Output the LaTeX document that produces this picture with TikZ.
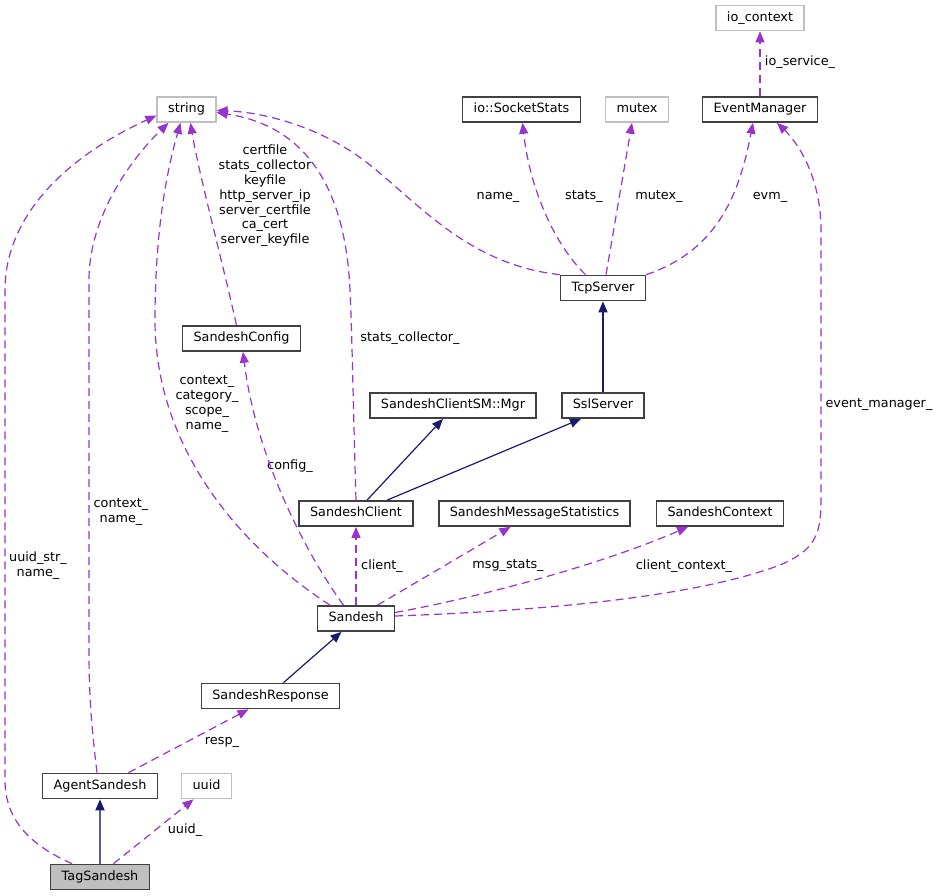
\documentclass[tikz,border=0pt]{standalone}
\usepackage{fontspec}
\setmainfont{DejaVu Sans}
\usepackage{xcolor}
\usetikzlibrary{arrows.meta}
\definecolor{memberpurple}{HTML}{9A32CD}
\definecolor{basenavy}{HTML}{191970}
\definecolor{tagblue}{HTML}{5A5AA0}
\definecolor{extgray}{HTML}{BFBFBF}
\definecolor{boxgray}{HTML}{404040}

\begin{document}
\begin{tikzpicture}[%
x=1pt, y=-1pt,
font=\fontsize{12.8}{14.8}\selectfont,
% common options for class boxes:
cls/.style = {draw=boxgray, line width=1.5pt, fill=white, align=center,
            inner xsep=11pt, inner ysep=6.4pt, text height=9.6pt, text depth=2.8pt},
% classes drawn with a grey frame:
ext/.style = {cls, draw=extgray},
% common options for the usage edges:
usage/.style = {draw=memberpurple, line width=1.2pt, dash pattern=on 8pt off 5pt,
            -{Triangle[length=11pt,width=9pt]}},
% common options for the inheritance edges:
inherit/.style = {draw=basenavy, line width=1.2pt, -{Triangle[length=11pt,width=9pt]}},
% edge labels:
lbl/.style = {align=center, inner sep=0}]
\useasboundingbox (0,0) rectangle (940,896);
\node[ext] (ioctx) at (760,18) {io\_context};
\node[ext] (str) at (186.5,109.5) {string};
\node[cls] (sock) at (521.5,109.5) {io::SocketStats};
\node[ext] (mtx) at (637,109.5) {mutex};
\node[cls] (evm) at (760,109.5) {EventManager};
\node[cls] (tcp) at (603,288) {TcpServer};
\node[cls] (cfg) at (241.5,338.5) {SandeshConfig};
\node[cls] (mgr) at (453,405.5) {SandeshClientSM::Mgr};
\node[cls] (ssl) at (603,405.5) {SslServer};
\node[cls] (client) at (356,513.5) {SandeshClient};
\node[cls] (msgstats) at (534.5,513.5) {SandeshMessageStatistics};
\node[cls] (ctx) at (720,513.5) {SandeshContext};
\node[cls] (sandesh) at (356,618.5) {Sandesh};
\node[cls] (resp) at (270.5,696) {SandeshResponse};
\node[cls] (agent) at (100,786) {AgentSandesh};
\node[ext] (uuid) at (206.5,786) {uuid};
\node[cls, fill=extgray] (tag) at (100,877) {TagSandesh};
% labels
\node[lbl] (L1) at (38,566) {uuid\_str\_\\name\_};
\node[lbl] (L2) at (121,512) {context\_\\name\_};
\node[lbl] (L3) at (207,404) {context\_\\category\_\\scope\_\\name\_};
\node[lbl] (L4) at (265,196) {certfile\\stats\_collector\\keyfile\\http\_server\_ip\\server\_certfile\\ca\_cert\\server\_keyfile};
\node[lbl] (L5) at (410,338) {stats\_collector\_};
\node[lbl] (L6) at (498,197) {name\_};
\node[lbl] (L7) at (584,197) {stats\_};
\node[lbl] (L8) at (659,197) {mutex\_};
\node[lbl] (L9) at (770,197) {evm\_};
\node[lbl] (L10) at (800,62) {io\_service\_};
\node[lbl] (L11) at (879,405) {event\_manager\_};
\node[lbl] (L12) at (290,466) {config\_};
\node[lbl] (L13) at (382,566) {client\_};
\node[lbl] (L14) at (508,566) {msg\_stats\_};
\node[lbl] (L15) at (684,566) {client\_context\_};
\node[lbl] (L16) at (222,742) {resp\_};
\node[lbl] (L17) at (185,830) {uuid\_};
% usage edges
\draw[usage] ([xshift=-28pt]tag.north) .. controls (30,845) and (5,820) .. (5,780)
    -- (5,290) .. controls (5,220) and (60,160) .. ([yshift=-6pt]str.west);
\draw[usage] ([xshift=-3pt]agent.north) .. controls (92,730) and (89,700) .. (89,650)
    -- (89,280) .. controls (89,210) and (140,150) .. ([xshift=-18pt]str.south);
\draw[usage] ([xshift=-26pt]sandesh.north) .. controls (230,540) and (155,440) .. (155,320)
    .. controls (155,220) and (170,160) .. ([xshift=-6pt]str.south);
\draw[usage] ([xshift=-5pt]cfg.north) .. controls (222,260) and (198,170) .. ([xshift=4pt]str.south);
\draw[usage] (client.north) .. controls (353,400) and (352,330) .. (350,290)
    .. controls (345,180) and (300,125) .. ([yshift=-3pt]str.east);
\draw[usage] (tcp.north west) .. controls (470,265) and (420,205) .. (370,165)
    .. controls (320,125) and (260,112) .. ([yshift=-1pt]str.east);
\draw[usage] ([xshift=-17.5pt]tcp.north) .. controls (555,245) and (530,190) .. ([xshift=1pt]sock.south);
\draw[usage] ([xshift=3pt]tcp.north) -- ([xshift=-5pt]mtx.south);
\draw[usage] (tcp.north east) .. controls (720,250) and (740,190) .. ([xshift=-7pt]evm.south);
\draw[usage] (evm.north) -- (ioctx.south);
\draw[usage] ([yshift=2.5pt]sandesh.east) .. controls (560,610) and (700,595) .. (780,565)
    .. controls (815,550) and (821,535) .. (821,500) -- (821,230)
    .. controls (821,180) and (800,145) .. ([xshift=17pt]evm.south);
\draw[usage] (sandesh.north) -- (client.south);
\draw[usage] ([xshift=21.5pt]sandesh.north) -- ([xshift=-24pt]msgstats.south);
\draw[usage] ([yshift=6pt]sandesh.east) .. controls (480,597) and (600,565) .. ([xshift=-32pt]ctx.south);
\draw[usage] ([xshift=-12.5pt]sandesh.north) .. controls (300,545) and (255,450) .. ([xshift=1.5pt]cfg.south);
\draw[usage] ([xshift=28.5pt]agent.north) -- ([xshift=-22pt]resp.south);
\draw[usage] ([xshift=13.5pt]tag.north) -- ([xshift=-13pt]uuid.south);
% inheritance edges
\draw[inherit] ([xshift=13pt]resp.north) -- ([xshift=-14.5pt]sandesh.south);
\draw[inherit, draw=tagblue, line width=1.8pt, -{Triangle[length=11pt,width=9pt,color=basenavy]}] (tag.north) -- (agent.south);
\draw[inherit] ([xshift=11pt]client.north) -- ([xshift=-10pt]mgr.south);
\draw[inherit] ([xshift=31pt]client.north) -- ([xshift=-22pt]ssl.south);
\draw[inherit] (ssl.north) -- (tcp.south);
\end{tikzpicture}
\end{document}
